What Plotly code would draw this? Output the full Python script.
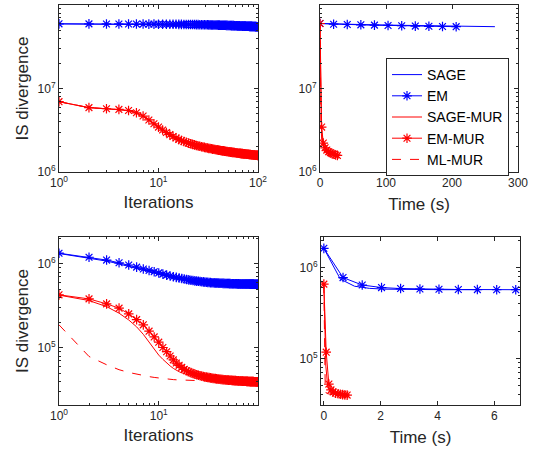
import plotly.graph_objects as go

# ---------------- data ----------------
iterations = list(range(1, 101))

# top row (x1e7 for blue, x1e6 for red)
top_em_iter = [5.95,5.94,5.93,5.93,5.92,5.91,5.91,5.90,5.90,5.89,
               5.89,5.88,5.88,5.87,5.87,5.86,5.86,5.85,5.85,5.84,
               5.84,5.83,5.83,5.82,5.82,5.81,5.81,5.80,5.80,5.79,
               5.79,5.78,5.78,5.77,5.77,5.76,5.76,5.75,5.75,5.74,
               5.74,5.73,5.73,5.72,5.72,5.71,5.71,5.70,5.70,5.69,
               5.69,5.68,5.68,5.67,5.67,5.66,5.66,5.65,5.65,5.64,
               5.64,5.63,5.63,5.62,5.62,5.61,5.61,5.60,5.60,5.59,
               5.59,5.59,5.58,5.58,5.58,5.57,5.57,5.57,5.56,5.56,
               5.56,5.55,5.55,5.55,5.54,5.54,5.54,5.53,5.53,5.53,
               5.52,5.52,5.52,5.51,5.51,5.51,5.50,5.50,5.50,5.50]
top_emmur_iter = [6.95,5.90,5.72,5.62,5.45,5.12,4.68,4.20,3.78,3.45,
                  3.18,2.97,2.80,2.66,2.55,2.46,2.38,2.32,2.27,2.22,
                  2.18,2.14,2.11,2.08,2.05,2.03,2.01,1.99,1.97,1.95,
                  1.94,1.92,1.91,1.90,1.88,1.87,1.86,1.85,1.84,1.83,
                  1.82,1.81,1.80,1.79,1.79,1.78,1.77,1.76,1.76,1.75,
                  1.74,1.74,1.73,1.73,1.72,1.72,1.71,1.71,1.70,1.70,
                  1.69,1.69,1.68,1.68,1.68,1.67,1.67,1.66,1.66,1.66,
                  1.65,1.65,1.65,1.64,1.64,1.64,1.63,1.63,1.63,1.63,
                  1.62,1.62,1.62,1.62,1.61,1.61,1.61,1.61,1.60,1.60,
                  1.60,1.60,1.60,1.59,1.59,1.59,1.59,1.59,1.58,1.58]
top_sage_iter = top_em_iter
top_sagemur_iter = top_emmur_iter
top_mlmur_iter = top_emmur_iter
top_init = 6.0e7

top_time_sage = [0, 26.5, 53, 79.5, 106, 132.5, 159, 185.5, 212, 238.5, 265]
top_time_em = [0, 20.6, 41.3, 61.9, 82.5, 103.1, 123.8, 144.4, 165, 185.6, 206.3]
top_time_sagemur = [0, 2.0, 4.0, 6.0, 8.0, 10.0, 12.0, 14.0, 16.0, 18.0, 20.0]
top_time_emmur = [0, 2.5, 5.0, 7.7, 10.3, 13.0, 15.6, 18.3, 21.0, 23.7, 26.4]
top_time_mlmur = [0, 1.5, 3.0, 4.5, 6.0, 7.5, 9.0, 10.5, 12.0, 13.5, 15.0]

# bottom row (x1e5 for blue, x1e4 for red)
bot_em_iter = [13.4,12.0,11.1,10.3,9.7,9.15,8.7,8.35,8.05,7.8,
               7.55,7.35,7.18,7.03,6.9,6.79,6.69,6.6,6.52,6.45,
               6.39,6.33,6.28,6.24,6.20,6.16,6.13,6.10,6.07,6.05,
               6.03,6.01,5.99,5.97,5.96,5.94,5.93,5.92,5.91,5.90,
               5.89,5.88,5.87,5.86,5.86,5.85,5.84,5.84,5.83,5.83,
               5.82,5.82,5.81,5.81,5.80,5.80,5.80,5.79,5.79,5.79,
               5.78,5.78,5.78,5.78,5.77,5.77,5.77,5.77,5.76,5.76,
               5.76,5.76,5.76,5.76,5.75,5.75,5.75,5.75,5.75,5.75,
               5.75,5.74,5.74,5.74,5.74,5.74,5.74,5.74,5.74,5.73,
               5.73,5.73,5.73,5.73,5.73,5.73,5.73,5.73,5.73,5.73]
bot_sage_iter = [13.3,11.8,10.8,10.0,9.4,8.85,8.4,8.05,7.75,7.5,
                 7.27,7.08,6.92,6.78,6.66,6.56,6.47,6.39,6.32,6.26,
                 6.21,6.16,6.12,6.08,6.05,6.02,5.99,5.97,5.95,5.93,
                 5.91,5.90,5.88,5.87,5.86,5.85,5.84,5.83,5.82,5.81,
                 5.81,5.80,5.80,5.79,5.79,5.78,5.78,5.77,5.77,5.77,
                 5.76,5.76,5.76,5.76,5.75,5.75,5.75,5.75,5.75,5.74,
                 5.74,5.74,5.74,5.74,5.74,5.74,5.74,5.73,5.73,5.73,
                 5.73,5.73,5.73,5.73,5.73,5.73,5.73,5.73,5.73,5.73,
                 5.73,5.73,5.73,5.73,5.73,5.73,5.73,5.73,5.73,5.73,
                 5.73,5.73,5.73,5.73,5.73,5.73,5.73,5.73,5.73,5.73]
bot_emmur_iter = [42.8,38.3,33.4,29.7,25.4,21.7,18.8,15.8,13.5,11.7,
                  10.1,9.0,8.0,7.2,6.6,6.2,5.85,5.55,5.35,5.2,
                  5.07,4.96,4.87,4.79,4.72,4.66,4.61,4.56,4.52,4.48,
                  4.45,4.42,4.39,4.36,4.34,4.32,4.30,4.28,4.26,4.25,
                  4.23,4.22,4.21,4.19,4.18,4.17,4.16,4.15,4.14,4.13,
                  4.12,4.11,4.11,4.10,4.09,4.09,4.08,4.07,4.07,4.06,
                  4.06,4.05,4.05,4.04,4.04,4.03,4.03,4.02,4.02,4.02,
                  4.01,4.01,4.00,4.00,4.00,3.99,3.99,3.99,3.98,3.98,
                  3.98,3.97,3.97,3.97,3.97,3.96,3.96,3.96,3.96,3.95,
                  3.95,3.95,3.95,3.94,3.94,3.94,3.94,3.94,3.93,3.93]
bot_sagemur_iter = [42.5,36.6,31.0,25.9,21.5,17.8,14.5,11.7,9.6,8.2,
                    7.3,6.6,6.1,5.7,5.4,5.2,5.05,4.93,4.83,4.75,
                    4.68,4.62,4.57,4.52,4.48,4.45,4.42,4.39,4.36,4.34,
                    4.32,4.30,4.28,4.26,4.24,4.23,4.21,4.20,4.19,4.18,
                    4.17,4.16,4.15,4.14,4.13,4.12,4.11,4.10,4.10,4.09,
                    4.08,4.08,4.07,4.06,4.06,4.05,4.05,4.04,4.04,4.03,
                    4.03,4.02,4.02,4.01,4.01,4.01,4.00,4.00,3.99,3.99,
                    3.99,3.98,3.98,3.98,3.97,3.97,3.97,3.97,3.96,3.96,
                    3.96,3.96,3.95,3.95,3.95,3.95,3.94,3.94,3.94,3.94,
                    3.94,3.93,3.93,3.93,3.93,3.93,3.92,3.92,3.92,3.92]
bot_mlmur_iter = [18.8,7.9,6.3,5.5,5.1,4.85,4.7,4.55,4.45,4.37,
                  4.31,4.26,4.22,4.19,4.17,4.15,4.13,4.12,4.11,4.10,
                  4.09,4.08,4.08,4.07,4.07,4.06,4.06,4.05,4.05,4.05,
                  4.04,4.04,4.04,4.03,4.03,4.03,4.02,4.02,4.02,4.02,
                  4.01,4.01,4.01,4.01,4.00,4.00,4.00,4.00,3.99,3.99,
                  3.99,3.99,3.99,3.98,3.98,3.98,3.98,3.98,3.97,3.97,
                  3.97,3.97,3.97,3.96,3.96,3.96,3.96,3.96,3.96,3.95,
                  3.95,3.95,3.95,3.95,3.95,3.94,3.94,3.94,3.94,3.94,
                  3.94,3.94,3.93,3.93,3.93,3.93,3.93,3.93,3.93,3.93,
                  3.92,3.92,3.92,3.92,3.92,3.92,3.92,3.92,3.92,3.92]
bot_init_blue = 1.64e6
bot_init_red = 6.6e5

bot_time_sage = [0, 0.58, 1.08, 1.60, 2.12, 2.64, 3.16, 3.68, 4.20, 4.72, 5.24]
bot_time_em = [0, 0.675, 1.35, 2.03, 2.70, 3.38, 4.05, 4.73, 5.40, 6.08, 6.75]
bot_time_sagemur = [0, 0.07, 0.14, 0.21, 0.28, 0.35, 0.42, 0.49, 0.56, 0.63, 0.70]
bot_time_emmur = [0, 0.083, 0.177, 0.25, 0.33, 0.41, 0.50, 0.58, 0.66, 0.74, 0.82]
bot_time_mlmur = [0, 0.05, 0.10, 0.15, 0.20, 0.25, 0.30, 0.35, 0.40, 0.45, 0.50]

series_names = ["SAGE", "EM", "SAGE-MUR", "EM-MUR", "ML-MUR"]

# tick labels
top_y_ticks = [1e6, 1e7, 1e8]
top_y_text = ["10<sup>6</sup>", "10<sup>7</sup>", "10<sup>8</sup>"]
bot_y_ticks = [1e5, 1e6]
bot_y_text = ["10<sup>5</sup>", "10<sup>6</sup>"]
iter_ticks_top = [1, 10, 100]
iter_text_top = ["10<sup>0</sup>", "10<sup>1</sup>", "10<sup>2</sup>"]
iter_ticks_bot = [1, 10]
iter_text_bot = ["10<sup>0</sup>", "10<sup>1</sup>"]
time_ticks_top = [0, 100, 200, 300]
time_ticks_bot = [0, 2, 4, 6]

# ---------------- figure ----------------
BLUE = "rgb(0,0,255)"
RED = "rgb(255,0,0)"
AX = "#262626"
FONT = "Liberation Sans, Arial, Helvetica, sans-serif"

fig = go.Figure()


def add(x, y, name, color, star, dash, xa, ya, legend):
    fig.add_trace(go.Scatter(
        x=x, y=y, name=name, xaxis=xa, yaxis=ya, showlegend=legend,
        mode="lines+markers" if star else "lines",
        line=dict(color=color, width=1, dash=dash),
        marker=dict(symbol="asterisk-open", size=8, color=color,
                    line=dict(color=color, width=1.2)),
    ))


def scale(vals, f):
    return [v * f for v in vals]


def tsel(init, vals):
    return [init] + vals[9::10]


# top-left (iterations)
tl = dict(
    sage=scale(top_sage_iter, 1e7), em=scale(top_em_iter, 1e7),
    sagemur=scale(top_sagemur_iter, 1e6), emmur=scale(top_emmur_iter, 1e6),
    mlmur=scale(top_mlmur_iter, 1e6))
add(iterations, tl["sage"], "SAGE", BLUE, False, "solid", "x", "y", False)
add(iterations, tl["em"], "EM", BLUE, True, "solid", "x", "y", False)
add(iterations, tl["sagemur"], "SAGE-MUR", RED, False, "solid", "x", "y", False)
add(iterations, tl["emmur"], "EM-MUR", RED, True, "solid", "x", "y", False)
add(iterations, tl["mlmur"], "ML-MUR", RED, False, "dash", "x", "y", False)

# top-right (time)
add(top_time_sage, tsel(top_init, tl["sage"]), "SAGE", BLUE, False, "solid", "x2", "y2", True)
add(top_time_em, tsel(top_init, tl["em"]), "EM", BLUE, True, "solid", "x2", "y2", True)
add(top_time_sagemur, tsel(top_init, tl["sagemur"]), "SAGE-MUR", RED, False, "solid", "x2", "y2", True)
add(top_time_emmur, tsel(top_init, tl["emmur"]), "EM-MUR", RED, True, "solid", "x2", "y2", True)
add(top_time_mlmur, tsel(top_init, tl["mlmur"]), "ML-MUR", RED, False, "dash", "x2", "y2", True)

# bottom-left (iterations)
bl = dict(
    sage=scale(bot_sage_iter, 1e5), em=scale(bot_em_iter, 1e5),
    sagemur=scale(bot_sagemur_iter, 1e4), emmur=scale(bot_emmur_iter, 1e4),
    mlmur=scale(bot_mlmur_iter, 1e4))
add(iterations, bl["sage"], "SAGE", BLUE, False, "solid", "x3", "y3", False)
add(iterations, bl["em"], "EM", BLUE, True, "solid", "x3", "y3", False)
add(iterations, bl["sagemur"], "SAGE-MUR", RED, False, "solid", "x3", "y3", False)
add(iterations, bl["emmur"], "EM-MUR", RED, True, "solid", "x3", "y3", False)
add(iterations, bl["mlmur"], "ML-MUR", RED, False, "dash", "x3", "y3", False)

# bottom-right (time)
add(bot_time_sage, tsel(bot_init_blue, bl["sage"]), "SAGE", BLUE, False, "solid", "x4", "y4", False)
add(bot_time_em, tsel(bot_init_blue, bl["em"]), "EM", BLUE, True, "solid", "x4", "y4", False)
add(bot_time_sagemur, tsel(bot_init_red, bl["sagemur"]), "SAGE-MUR", RED, False, "solid", "x4", "y4", False)
add(bot_time_emmur, tsel(bot_init_red, bl["emmur"]), "EM-MUR", RED, True, "solid", "x4", "y4", False)
add(bot_time_mlmur, tsel(bot_init_red, bl["mlmur"]), "ML-MUR", RED, False, "dash", "x4", "y4", False)


def minor_log(lo, hi):
    vals = []
    for e in range(lo, hi):
        for m in range(2, 10):
            vals.append(m * 10 ** e)
    return vals


W, H = 536, 453


def dom_x(a, b):
    return [a / W, b / W]


def dom_y(top, bottom):
    return [1 - bottom / H, 1 - top / H]


base = dict(showgrid=False, zeroline=False, showline=True, linecolor=AX, linewidth=1,
            mirror="ticks", ticks="inside", ticklen=4, tickwidth=1, tickcolor=AX,
            tickfont=dict(family=FONT, size=12, color=AX), automargin=False)


def logminor(lo, hi):
    return dict(ticks="inside", ticklen=2, tickwidth=1, tickcolor=AX,
                tickmode="array", tickvals=minor_log(lo, hi), showgrid=False)


title_font = dict(family=FONT, size=17, color=AX)

fig.update_layout(
    width=W, height=H, margin=dict(l=0, r=0, t=0, b=0),
    paper_bgcolor="white", plot_bgcolor="white",
    font=dict(family=FONT, color=AX),
    showlegend=True,
    legend=dict(x=386 / W, y=1 - 58 / H, xanchor="left", yanchor="top",
                bgcolor="white", bordercolor=AX, borderwidth=1,
                font=dict(family=FONT, size=14, color="black"),
                tracegroupgap=0, itemwidth=30),
    xaxis=dict(base, type="log", domain=dom_x(59, 258), anchor="y", range=[0, 2],
               tickmode="array", tickvals=iter_ticks_top, ticktext=iter_text_top,
               minor=logminor(0, 2),
               title=dict(text="Iterations", font=title_font, standoff=6)),
    yaxis=dict(base, type="log", domain=dom_y(5, 172), anchor="x", range=[6, 8],
               tickmode="array", tickvals=top_y_ticks, ticktext=top_y_text,
               minor=logminor(6, 8),
               title=dict(text="IS divergence", font=title_font, standoff=4)),
    xaxis2=dict(base, domain=dom_x(320, 518), anchor="y2", range=[0, 300],
                tickmode="array", tickvals=time_ticks_top,
                title=dict(text="Time (s)", font=title_font, standoff=8)),
    yaxis2=dict(base, type="log", domain=dom_y(5, 172), anchor="x2", range=[6, 8],
                tickmode="array", tickvals=top_y_ticks, ticktext=top_y_text,
                minor=logminor(6, 8)),
    xaxis3=dict(base, type="log", domain=dom_x(59, 258), anchor="y3", range=[0, 1.995],
                tickmode="array", tickvals=iter_ticks_bot, ticktext=iter_text_bot,
                minor=logminor(0, 2),
                title=dict(text="Iterations", font=title_font, standoff=6)),
    yaxis3=dict(base, type="log", domain=dom_y(237, 405), anchor="x3", range=[4.32, 6.32],
                tickmode="array", tickvals=bot_y_ticks, ticktext=bot_y_text,
                minor=logminor(4, 7),
                title=dict(text="IS divergence", font=title_font, standoff=4)),
    xaxis4=dict(base, domain=dom_x(321, 520), anchor="y4", range=[-0.1, 6.9],
                tickmode="array", tickvals=time_ticks_bot,
                title=dict(text="Time (s)", font=title_font, standoff=8)),
    yaxis4=dict(base, type="log", domain=dom_y(237, 405), anchor="x4", range=[4.485, 6.34],
                tickmode="array", tickvals=bot_y_ticks, ticktext=bot_y_text,
                minor=logminor(4, 7)),
)

fig.write_html("out.html", config={"displayModeBar": False})

# remove the default page margin so the figure sits at the window origin
with open("out.html", "r", encoding="utf-8") as fh:
    page = fh.read()
page = page.replace("<head>", "<head><style>html,body{margin:0;padding:0;overflow:hidden;}</style>", 1)
with open("out.html", "w", encoding="utf-8") as fh:
    fh.write(page)
